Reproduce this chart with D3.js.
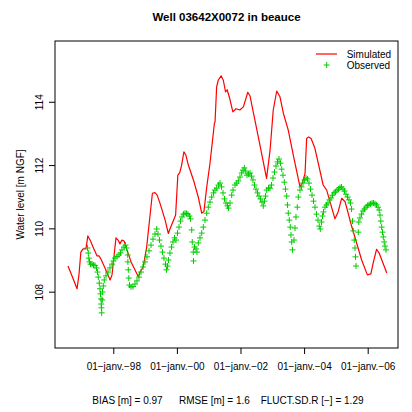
<!DOCTYPE html>
<html><head><meta charset="utf-8">
<script src="https://cdn.jsdelivr.net/npm/d3@7"></script>
<style>body{margin:0;background:#fff}svg{display:block}text{font-family:"Liberation Sans",Arial,Helvetica,sans-serif}</style>
</head><body><svg id="c" width="412" height="412"></svg>
<script>
const title = "Well 03642X0072 in beauce";
const yLabel = "Water level [m NGF]";
const xTickYears = [1998, 2000, 2002, 2004, 2006];
const xTickLabels = ["01\u2212janv.\u221298", "01\u2212janv.\u221200", "01\u2212janv.\u221202", "01\u2212janv.\u221204", "01\u2212janv.\u221206"];
const yTicks = [108, 110, 112, 114];
const legendLabels = ["Simulated", "Observed"];
const stats = ["BIAS [m] = 0.97", "RMSE [m] = 1.6", "FLUCT.SD.R [\u2212] = 1.29"];

// [decimal year, water level]
const simulated = [
[1996.575,108.81],[1996.70,108.50],[1996.86,108.09],[1996.92,108.53],[1996.98,109.25],[1997.05,109.35],[1997.14,109.35],[1997.20,109.76],[1997.27,109.63],[1997.39,109.35],
[1997.49,109.13],[1997.55,109.13],[1997.61,109.03],[1997.74,108.75],[1997.90,108.37],[1997.96,108.53],[1998.05,109.38],[1998.085,109.70],[1998.15,109.63],[1998.21,109.51],
[1998.27,109.63],[1998.34,109.60],[1998.43,109.32],[1998.56,108.94],[1998.68,108.69],[1998.79,108.46],[1998.84,108.62],[1998.94,108.78],[1999.05,109.41],[1999.15,110.36],
[1999.23,111.11],[1999.31,111.13],[1999.38,111.05],[1999.47,110.79],[1999.63,110.26],[1999.73,109.84],[1999.81,110.05],[1999.92,110.32],[1999.96,110.42],[2000.03,111.68],
[2000.09,111.76],[2000.15,112.00],[2000.22,112.42],[2000.28,112.32],[2000.36,112.00],[2000.52,111.53],[2000.67,111.00],[2000.78,110.48],[2000.85,110.53],[2000.94,111.32],
[2001.04,112.05],[2001.11,112.69],[2001.18,113.32],[2001.20,113.37],[2001.25,114.47],[2001.30,114.68],[2001.39,114.82],[2001.46,114.68],[2001.53,114.31],[2001.58,114.38],
[2001.66,114.11],[2001.76,113.68],[2001.86,113.78],[2001.98,113.74],[2002.09,113.84],[2002.23,114.30],[2002.30,114.18],[2002.56,112.89],[2002.82,111.58],[2002.93,112.47],
[2003.03,113.74],[2003.14,114.34],[2003.24,114.16],[2003.35,113.63],[2003.50,113.11],[2003.68,112.22],[2003.87,111.32],[2003.94,111.42],[2004.03,111.74],[2004.08,112.84],
[2004.14,112.89],[2004.22,112.84],[2004.34,112.53],[2004.60,111.37],[2004.71,111.21],[2004.97,110.30],[2005.07,110.52],[2005.18,110.95],[2005.29,110.84],[2005.50,110.05],
[2005.81,109.00],[2005.99,108.53],[2006.10,108.56],[2006.18,108.94],[2006.28,109.34],[2006.36,109.22],[2006.60,108.59]
];

const observed = [
[1997.189,109.38],[1997.214,109.22],[1997.230,109.06],[1997.252,108.94],[1997.283,108.87],[1997.330,108.87],[1997.377,108.84],[1997.425,108.83],[1997.472,108.75],[1997.503,108.62],
[1997.528,108.46],[1997.560,108.27],[1997.582,108.09],[1997.598,107.93],[1997.613,107.77],[1997.620,107.61],[1997.629,107.49],[1997.635,107.33],[1997.654,107.74],[1997.660,107.99],
[1997.686,108.18],[1997.717,108.37],[1997.771,108.50],[1997.833,108.62],[1997.896,108.75],[1997.959,108.87],[1998.006,108.97],[1998.054,109.06],[1998.116,109.11],[1998.179,109.16],
[1998.227,109.22],[1998.274,109.32],[1998.337,109.41],[1998.384,109.47],[1998.415,109.38],[1998.453,109.16],[1998.459,108.94],[1998.472,108.69],[1998.488,108.43],[1998.510,108.21],
[1998.557,108.15],[1998.620,108.16],[1998.682,108.24],[1998.745,108.34],[1998.808,108.46],[1998.871,108.62],[1998.934,108.78],[1998.997,108.94],[1999.060,109.10],[1999.123,109.29],
[1999.186,109.47],[1999.249,109.66],[1999.311,109.82],[1999.365,109.98],[1999.406,109.82],[1999.453,109.63],[1999.500,109.44],[1999.547,109.25],[1999.594,109.06],[1999.642,108.87],
[1999.673,108.69],[1999.705,108.81],[1999.736,109.00],[1999.783,109.22],[1999.830,109.41],[1999.877,109.57],[1999.925,109.70],[1999.972,109.63],[2000.019,109.85],[2000.066,110.04],
[2000.113,110.23],[2000.161,110.36],[2000.208,110.45],[2000.255,110.48],[2000.302,110.47],[2000.349,110.45],[2000.396,110.39],[2000.428,110.30],[2000.466,109.95],[2000.484,109.57],
[2000.516,109.25],[2000.522,108.97],[2000.554,109.41],[2000.601,109.35],[2000.632,109.25],[2000.673,109.54],[2000.727,109.70],[2000.780,109.85],[2000.830,110.04],[2000.884,110.26],
[2000.937,110.48],[2000.988,110.67],[2001.041,110.83],[2001.094,110.99],[2001.151,111.12],[2001.198,111.21],[2001.252,111.27],[2001.308,111.37],[2001.355,111.43],[2001.403,111.31],
[2001.450,111.12],[2001.497,110.93],[2001.544,110.80],[2001.591,110.71],[2001.623,110.64],[2001.670,110.80],[2001.723,111.05],[2001.764,111.21],[2001.827,111.37],[2001.881,111.43],
[2001.931,111.50],[2001.984,111.62],[2002.038,111.75],[2002.079,111.84],[2002.120,111.91],[2002.164,111.81],[2002.205,111.68],[2002.252,111.72],[2002.299,111.75],[2002.346,111.65],
[2002.393,111.53],[2002.440,111.37],[2002.488,111.24],[2002.535,111.12],[2002.582,111.02],[2002.629,110.93],[2002.676,110.83],[2002.717,110.71],[2002.755,110.86],[2002.786,111.02],
[2002.824,111.21],[2002.881,111.27],[2002.928,111.27],[2002.975,111.37],[2003.022,111.59],[2003.069,111.78],[2003.117,111.97],[2003.164,112.10],[2003.211,112.19],[2003.258,112.06],
[2003.296,111.87],[2003.337,111.68],[2003.378,111.46],[2003.415,111.24],[2003.453,111.02],[2003.478,110.74],[2003.503,110.48],[2003.535,110.26],[2003.566,110.04],[2003.588,109.79],
[2003.610,109.57],[2003.635,109.32],[2003.683,109.63],[2003.714,110.01],[2003.745,110.36],[2003.786,110.67],[2003.818,110.99],[2003.871,111.21],[2003.918,111.31],[2003.966,111.43],
[2004.013,111.53],[2004.060,111.59],[2004.107,111.56],[2004.154,111.43],[2004.201,111.24],[2004.249,111.05],[2004.296,110.86],[2004.343,110.67],[2004.390,110.45],[2004.437,110.26],
[2004.478,110.07],[2004.510,109.98],[2004.547,110.20],[2004.579,110.39],[2004.610,110.52],[2004.657,110.67],[2004.705,110.74],[2004.752,110.80],[2004.799,110.90],[2004.846,110.96],
[2004.893,111.05],[2004.940,111.12],[2004.988,111.15],[2005.035,111.21],[2005.082,111.24],[2005.129,111.29],[2005.176,111.31],[2005.224,111.24],[2005.271,111.18],[2005.318,111.08],
[2005.365,110.99],[2005.412,110.90],[2005.459,110.80],[2005.491,110.61],[2005.522,110.23],[2005.547,109.92],[2005.578,109.63],[2005.601,109.38],[2005.617,109.10],[2005.632,108.81],
[2005.705,109.88],[2005.720,110.20],[2005.758,110.33],[2005.805,110.45],[2005.853,110.55],[2005.900,110.61],[2005.947,110.67],[2005.994,110.72],[2006.041,110.75],[2006.088,110.77],
[2006.135,110.80],[2006.183,110.80],[2006.230,110.78],[2006.277,110.74],[2006.324,110.67],[2006.362,110.58],[2006.387,110.42],[2006.412,110.23],[2006.440,110.04],[2006.466,109.88],
[2006.491,109.73],[2006.519,109.57],[2006.544,109.44],[2006.576,109.32]
];

const svg = d3.select("#c");
const L = 55, R = 398, T = 41, B = 348;
const x = d3.scaleLinear().domain([1996.167, 2006.953]).range([L, R]);
const y = d3.scaleLinear().domain([106.22, 115.92]).range([B, T]);

// title
svg.append("text").attr("x", (L + R) / 2).attr("y", 20.5).attr("text-anchor", "middle")
  .attr("font-size", 11.5).attr("font-weight", "bold").text(title);

// clip
svg.append("clipPath").attr("id", "clip").append("rect").attr("x", L).attr("y", T).attr("width", R - L).attr("height", B - T);
const g = svg.append("g").attr("clip-path", "url(#clip)");

// simulated line
g.append("path").datum(simulated)
  .attr("d", d3.line().x(d => x(d[0])).y(d => y(d[1])))
  .attr("fill", "none").attr("stroke", "#ff0000").attr("stroke-width", 1.2).attr("stroke-linejoin", "round");

// observed pluses
const s = 3;
g.append("g").selectAll("path").data(observed).join("path")
  .attr("d", d => { const px = x(d[0]), py = y(d[1]); return `M${px - s},${py}H${px + s}M${px},${py - s}V${py + s}`; })
  .attr("stroke", "#00cd00").attr("stroke-width", 1).attr("fill", "none");

// box
svg.append("rect").attr("x", L).attr("y", T).attr("width", R - L).attr("height", B - T)
  .attr("fill", "none").attr("stroke", "#000").attr("stroke-width", 1);

// x axis
const xa = svg.append("g").attr("transform", `translate(0,${B})`)
  .call(d3.axisBottom(x).tickValues(xTickYears).tickSize(6).tickSizeOuter(0)
    .tickFormat((d, i) => xTickLabels[i]));
xa.select(".domain").remove();
xa.selectAll("text").attr("font-size", 10).attr("font-family", "Liberation Sans, Arial, sans-serif").attr("fill", "#000").attr("dy", null).attr("y", 21.5);

// y axis
const ya = svg.append("g").attr("transform", `translate(${L},0)`)
  .call(d3.axisLeft(y).tickValues(yTicks).tickSize(6).tickSizeOuter(0).tickFormat(d3.format("d")));
ya.select(".domain").remove();
ya.selectAll(".tick text").attr("font-size", 10).attr("font-family", "Liberation Sans, Arial, sans-serif").attr("fill", "#000")
  .attr("x", null).attr("dy", null).attr("text-anchor", "middle")
  .attr("transform", "translate(-12.5,0) rotate(-90)");

// y label
svg.append("text").attr("transform", `translate(24,${(T + B) / 2}) rotate(-90)`).attr("text-anchor", "middle")
  .attr("font-size", 10).text(yLabel);

// legend
svg.append("line").attr("x1", 316).attr("x2", 337).attr("y1", 54).attr("y2", 54).attr("stroke", "#ff0000").attr("stroke-width", 1.2);
svg.append("path").attr("d", `M${326.7 - s},65H${326.7 + s}M326.7,${65 - s}V${65 + s}`).attr("stroke", "#00cd00").attr("stroke-width", 1);
svg.append("text").attr("x", 346.7).attr("y", 57.5).attr("font-size", 10).text(legendLabels[0]);
svg.append("text").attr("x", 346.7).attr("y", 68.5).attr("font-size", 10).text(legendLabels[1]);

// stats footer
const statX = [92.3, 179, 260.7];
stats.forEach((t, i) => svg.append("text").attr("x", statX[i]).attr("y", 404).attr("font-size", 10).text(t));
</script></body></html>
